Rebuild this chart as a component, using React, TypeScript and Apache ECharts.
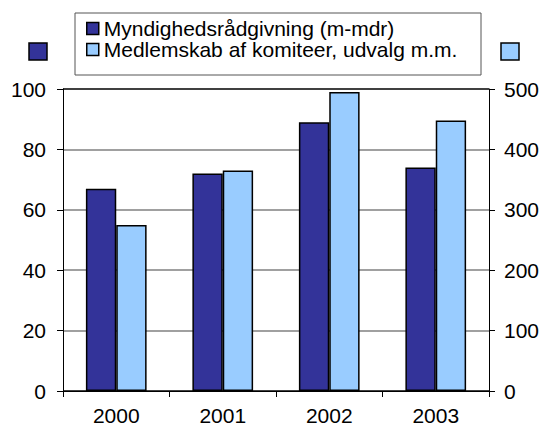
import React, { useEffect, useRef } from "react";
import * as echarts from "echarts";

const categories = ["2000", "2001", "2002", "2003"];
const seriesNames = ["Myndighedsrådgivning (m-mdr)", "Medlemskab af komiteer, udvalg m.m."];
const advisoryValues = [67, 72, 89, 74];
const membershipValues = [275, 365, 495, 448];
const leftTicks = [0, 20, 40, 60, 80, 100];
const rightTicks = [0, 100, 200, 300, 400, 500];

const DARK = "#333399";
const LIGHT = "#99CCFF";
const FONT = "'Liberation Sans', Arial, sans-serif";

export default function App() {
  const ref = useRef<HTMLDivElement>(null);
  useEffect(() => {
    if (!ref.current) return;
    const chart = echarts.init(ref.current, undefined, { renderer: "svg" });
    const axisLabel = { color: "#000", fontSize: 21, fontFamily: FONT };
    chart.setOption({
      animation: false,
      backgroundColor: "#fff",
      textStyle: { fontFamily: FONT },
      grid: { left: 63, right: 54, top: 89, bottom: 39, containLabel: false },
      legend: {
        orient: "vertical",
        left: 86,
        top: 18,
        padding: 0,
        itemGap: 0,
        itemWidth: 12,
        itemHeight: 12,
        itemTextGap: 5,
        itemStyle: { borderColor: "#000", borderWidth: 1.5 },
        textStyle: { color: "#000", fontSize: 21, fontFamily: FONT, lineHeight: 19 },
        icon: "rect",
        data: seriesNames,
      },
      graphic: [
        {
          type: "rect",
          shape: { x: 75, y: 13, width: 406, height: 62 },
          style: { fill: "none", stroke: "#555", lineWidth: 1 },
          silent: true,
          z: 0,
        },
        {
          type: "rect",
          shape: { x: 29, y: 43, width: 18, height: 17 },
          style: { fill: DARK, stroke: "#000", lineWidth: 1.5 },
        },
        {
          type: "rect",
          shape: { x: 501, y: 43, width: 18, height: 17 },
          style: { fill: LIGHT, stroke: "#000", lineWidth: 1.5 },
        },
      ],
      xAxis: [
        {
          type: "category",
          data: categories,
          boundaryGap: true,
          axisLine: { show: true, lineStyle: { color: "#000", width: 1 } },
          axisTick: { show: true, length: 6, inside: false, lineStyle: { color: "#000" } },
          axisLabel: { ...axisLabel, margin: 14 },
          splitLine: { show: false },
        },
      ],
      yAxis: [
        {
          type: "value",
          min: 0,
          max: 100,
          interval: 20,
          position: "left",
          axisLine: { show: true, lineStyle: { color: "#000", width: 1 } },
          axisTick: { show: true, length: 6, lineStyle: { color: "#000" } },
          axisLabel: {
            ...axisLabel,
            margin: 17,
            formatter: (v: number) => (leftTicks.includes(v) ? String(v) : ""),
          },
          splitLine: {
            show: true,
            lineStyle: {
              color: ["#000", "#808080", "#808080", "#808080", "#808080", "#000"],
              width: 1.5,
            },
          },
        },
        {
          type: "value",
          min: 0,
          max: 500,
          interval: 100,
          position: "right",
          axisLine: { show: true, lineStyle: { color: "#000", width: 1 } },
          axisTick: { show: true, length: 6, lineStyle: { color: "#000" } },
          axisLabel: {
            ...axisLabel,
            margin: 15,
            formatter: (v: number) => (rightTicks.includes(v) ? String(v) : ""),
          },
          splitLine: { show: false },
        },
      ],
      series: [
        {
          name: seriesNames[0],
          type: "bar",
          yAxisIndex: 0,
          data: advisoryValues,
          barGap: "0%",
          barCategoryGap: "43%",
          itemStyle: { color: DARK, borderColor: "#000", borderWidth: 1.5 },
        },
        {
          name: seriesNames[1],
          type: "bar",
          yAxisIndex: 1,
          data: membershipValues,
          barGap: "0%",
          barCategoryGap: "43%",
          itemStyle: { color: LIGHT, borderColor: "#000", borderWidth: 1.5 },
        },
      ],
    });
    return () => chart.dispose();
  }, []);
  return <div ref={ref} style={{ width: 543, height: 430, position: "absolute", left: 0, top: 0 }} />;
}
